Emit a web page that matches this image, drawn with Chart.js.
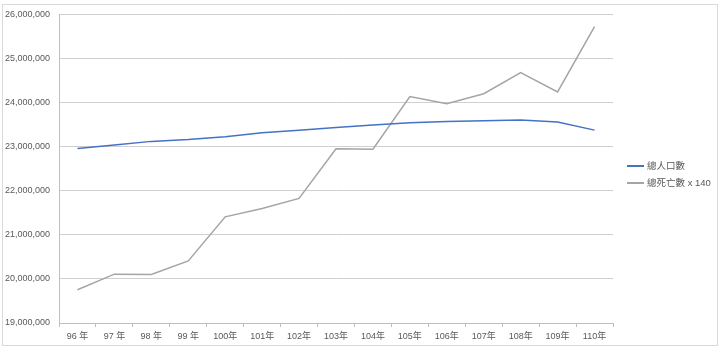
<!DOCTYPE html>
<html>
<head>
<meta charset="utf-8">
<script src="https://cdn.jsdelivr.net/npm/chart.js@4"></script>
<style>
  body { margin: 0; background: #fff; }
  #wrap { position: relative; width: 720px; height: 352px; }
  #frame { position: absolute; left: 2px; top: 4px; width: 714px; height: 340px; border: 1px solid #d9d9d9; pointer-events: none; }
  #legend { position: absolute; left: 627px; top: 158px; font: 9.5px "Liberation Sans", "Noto Sans CJK TC", sans-serif; color: #595959; }
  #legend div { height: 17px; line-height: 16px; white-space: nowrap; }
  #legend span.sw { display: inline-block; width: 17px; height: 2px; vertical-align: middle; margin-right: 3px; }
</style>
</head>
<body>
<div id="wrap">
  <canvas id="chart" width="720" height="352"></canvas>
  <div id="frame"></div>
  <div id="legend"></div>
</div>
<script>
var labels = ['96 年', '97 年', '98 年', '99 年', '100年', '101年', '102年', '103年', '104年', '105年', '106年', '107年', '108年', '109年', '110年'];
var population = [22958360, 23037031, 23119772, 23162123, 23224912, 23315822, 23373517, 23433753, 23492074, 23539816, 23571227, 23588932, 23603121, 23561236, 23375314];
var deathsScaled = [19755540, 20107360, 20101480, 20408080, 21408100, 21595140, 21827120, 22950060, 22940120, 24136700, 23973880, 24200260, 24681440, 24241840, 25722480];
var seriesNames = ['總人口數', '總死亡數 x 140'];
var seriesColors = ['#4472c4', '#a5a5a5'];

var font = { family: '"Liberation Sans", "Noto Sans CJK TC", sans-serif', size: 9 };

var chart = new Chart(document.getElementById('chart'), {
    type: 'line',
    data: {
        labels: labels,
        datasets: [
            { label: seriesNames[0], data: population, borderColor: seriesColors[0], borderWidth: 1.5, pointRadius: 0, tension: 0 },
            { label: seriesNames[1], data: deathsScaled, borderColor: seriesColors[1], borderWidth: 1.5, pointRadius: 0, tension: 0 }
        ]
    },
    options: {
        responsive: false,
        animation: false,
        layout: { padding: { left: 0, right: 107, top: 14, bottom: 0 } },
        plugins: { legend: { display: false }, tooltip: { enabled: false } },
        scales: {
            x: {
                offset: true,
                grid: { offset: true, drawOnChartArea: false, drawTicks: true, tickLength: 4, color: '#bfbfbf' },
                border: { display: true, color: '#bfbfbf' },
                ticks: { color: '#595959', font: font, padding: 4, maxRotation: 0, autoSkip: false },
                afterFit: function(s){ s.height = 29; }
            },
            y: {
                min: 19000000,
                max: 26000000,
                grid: { color: '#d0d0d0', drawTicks: false },
                border: { display: true, color: '#bfbfbf' },
                ticks: {
                    stepSize: 1000000,
                    color: '#595959',
                    font: font,
                    padding: 9,
                    callback: function(v){ return v.toLocaleString('en-US'); }
                },
                afterFit: function(s){ s.width = 59; }
            }
        }
    }
});

var legend = document.getElementById('legend');
chart.data.datasets.forEach(function(ds){
    var row = document.createElement('div');
    var sw = document.createElement('span');
    sw.className = 'sw';
    sw.style.background = ds.borderColor;
    row.appendChild(sw);
    row.appendChild(document.createTextNode(ds.label));
    legend.appendChild(row);
});
</script>
</body>
</html>
